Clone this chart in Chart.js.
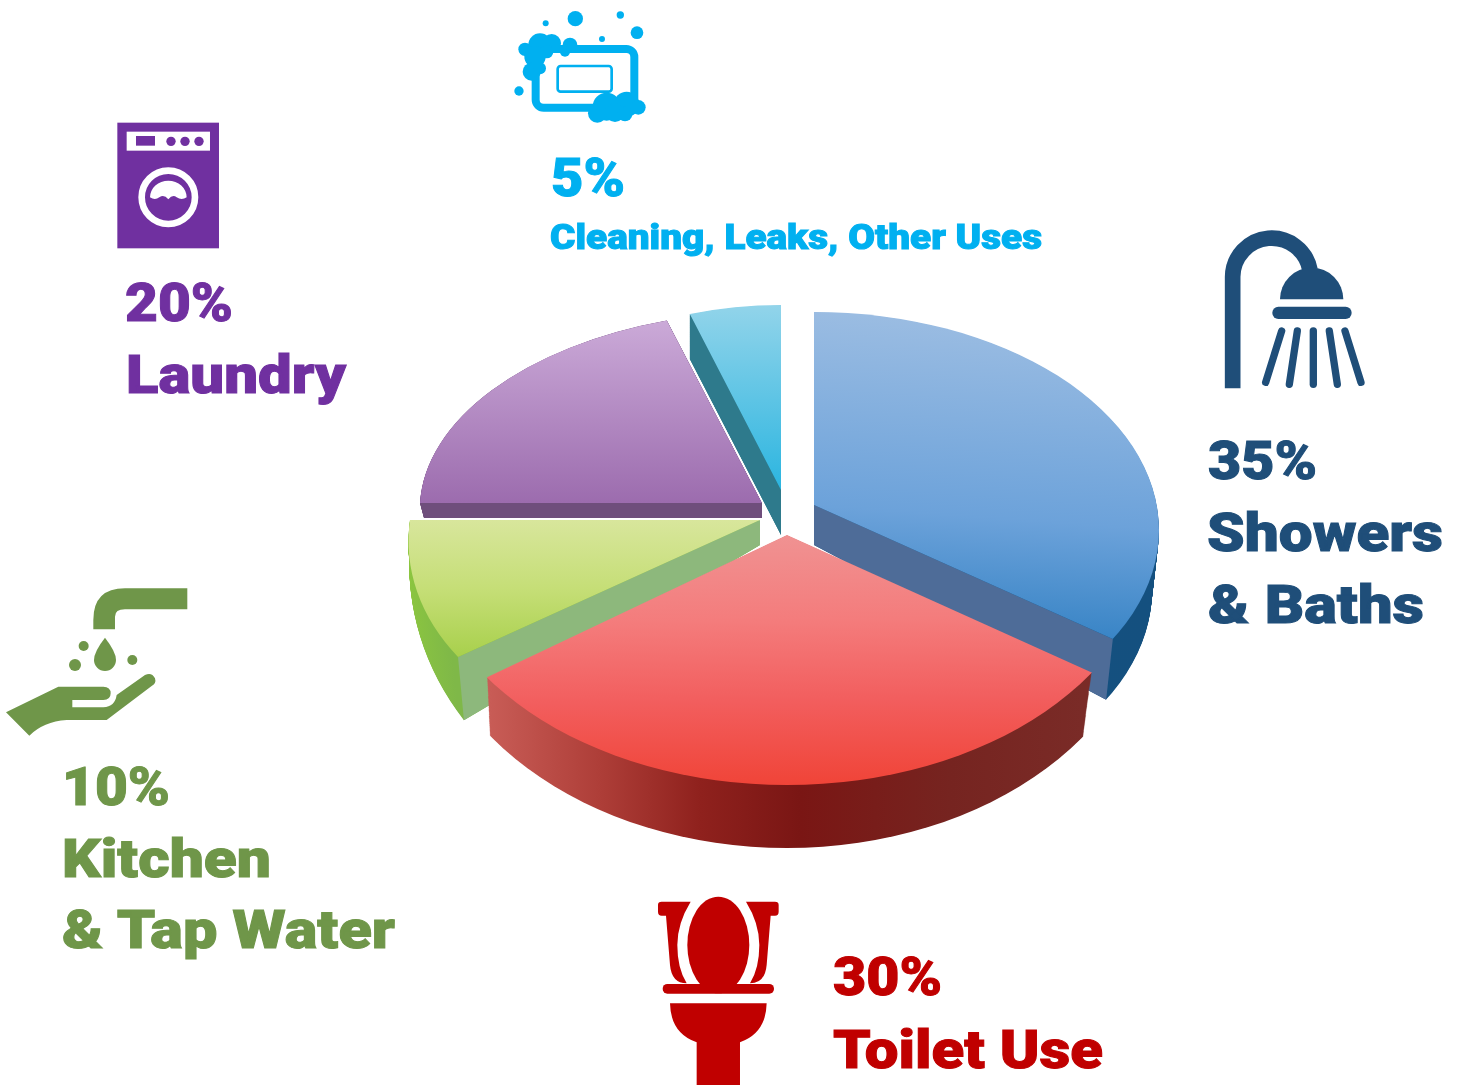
<!DOCTYPE html>
<html>
<head>
<meta charset="utf-8">
<title>Household water use</title>
<script src="https://cdn.jsdelivr.net/npm/chart.js@4"></script>
<style>
  html, body { margin: 0; padding: 0; background: #fff; }
  #wrap { position: relative; width: 1460px; height: 1085px; overflow: hidden; }
  #pie { position: absolute; left: 0; top: 0; }
  #overlay { position: absolute; left: 0; top: 0; pointer-events: none; }
  #overlay text { font-family: Roboto, "Liberation Sans", sans-serif; font-weight: 900; stroke-width: 1px; }
</style>
</head>
<body>
<div id="wrap">
  <canvas id="pie" width="1460" height="1085"></canvas>
  <svg id="overlay" width="1460" height="1085" viewBox="0 0 1460 1085" xmlns="http://www.w3.org/2000/svg">
    <!-- soap -->
    <g transform="translate(500,0) scale(0.3333)" fill="#00B0F0">
      <rect x="107" y="147" width="296" height="176" rx="24" fill="none" stroke="#00B0F0" stroke-width="24"/>
      <rect x="173" y="198" width="162" height="77" rx="9" fill="none" stroke="#00B0F0" stroke-width="8"/>
      <circle cx="120" cy="135" r="35"/><circle cx="155" cy="130" r="28"/><circle cx="210" cy="135" r="22"/>
      <circle cx="75" cy="148" r="20"/><circle cx="195" cy="155" r="15"/><circle cx="105" cy="170" r="32"/>
      <circle cx="140" cy="155" r="20"/><circle cx="95" cy="215" r="27"/><circle cx="120" cy="205" r="18"/>
      <circle cx="226" cy="56" r="23"/><circle cx="137" cy="70" r="9"/><circle cx="361" cy="45" r="11"/>
      <circle cx="411" cy="98" r="19"/><circle cx="306" cy="117" r="9"/><circle cx="57" cy="273" r="14"/>
      <circle cx="320" cy="320" r="42"/><circle cx="380" cy="313" r="38"/><circle cx="415" cy="322" r="22"/>
      <circle cx="292" cy="340" r="28"/><circle cx="345" cy="338" r="28"/><circle cx="375" cy="342" r="22"/>
    </g>
    <!-- washing machine -->
    <g transform="translate(100,110) scale(0.3333)">
      <rect x="52" y="38" width="305" height="377" fill="#7030A0"/>
      <rect x="80" y="65" width="250" height="57" fill="#fff"/>
      <rect x="108" y="78" width="57" height="29" fill="#7030A0"/>
      <circle cx="213" cy="94" r="14" fill="#7030A0"/><circle cx="255" cy="94" r="14" fill="#7030A0"/><circle cx="297" cy="94" r="14" fill="#7030A0"/>
      <circle cx="205" cy="262" r="80" fill="none" stroke="#fff" stroke-width="20"/>
      <path d="M150 262 A55 50 0 0 1 260 262 Q245 272 230 262 Q218 252 205 268 Q192 252 178 262 Q165 272 150 262 Z" fill="#fff"/>
    </g>
    <!-- shower -->
    <g transform="translate(1200,220) scale(0.3333)" fill="#1F4E79" stroke="none">
      <path d="M98 505 V170 A117 117 0 0 1 330 150" fill="none" stroke="#1F4E79" stroke-width="47"/>
      <path d="M240 238 A95 95 0 0 1 430 238 Z"/>
      <rect x="217" y="260" width="238" height="37" rx="18"/>
      <g stroke="#1F4E79" stroke-width="22" stroke-linecap="round" fill="none">
        <path d="M245 333 L197 487"/><path d="M292 333 L268 493"/><path d="M340 333 V493"/><path d="M388 333 L412 493"/><path d="M435 333 L483 487"/>
      </g>
    </g>
    <!-- tap and hand -->
    <g transform="translate(0,580) scale(0.3333)" fill="#6F9649">
      <path d="M562 25 H375 Q280 25 280 120 V148 H345 V110 Q345 88 375 88 H562 Z"/>
      <path d="M315 173 Q348 215 348 240 A33 33 0 0 1 282 240 Q282 215 315 173 Z"/>
      <circle cx="251" cy="198" r="15"/><circle cx="225" cy="255" r="18"/><circle cx="397" cy="240" r="15"/>
      <path d="M18 397 L175 320 H310 Q332 320 332 340 Q332 360 310 360 H217 V382 H310 Q345 380 350 345 L435 285 Q455 275 465 295 Q470 310 455 318 L320 420 H200 Q130 425 88 467 Z"/>
    </g>
    <!-- toilet -->
    <g transform="translate(640,890) scale(0.3333)" fill="#C00000">
      <ellipse cx="235" cy="165" rx="93" ry="145"/>
      <path d="M65 35 H152 Q112 100 112 165 Q112 235 140 280 Q95 280 90 225 L78 77 H65 Q54 77 54 65 V45 Q54 35 65 35 Z"/>
      <path d="M405 35 H318 Q358 100 358 165 Q358 235 330 280 Q375 280 380 225 L392 77 H405 Q416 77 416 65 V45 Q416 35 405 35 Z"/>
      <rect x="68" y="282" width="334" height="29" rx="14"/>
      <path d="M90 340 H380 Q378 430 300 457 V585 H170 V457 Q92 430 90 340 Z" />
    </g>
    <g id="labels"></g>
  </svg>
</div>

<script>
// chart values
const categories = ['Showers & Baths', 'Toilet Use', 'Kitchen & Tap Water', 'Laundry', 'Cleaning, Leaks, Other Uses'];
const shares = [35, 30, 10, 20, 5];
const labelLines = [['Showers', '& Baths'], ['Toilet Use'], ['Kitchen', '& Tap Water'], ['Laundry'], ['Cleaning, Leaks, Other Uses']];

// text colours and placement, [x, baseline, font size, width] per line, percent first
const labelColors = ['#1F4E79', '#C00000', '#6F9649', '#7030A0', '#00B0F0'];
const labelSpots = [
    [[1208, 479, 54, 109], [1207, 551, 54, 236], [1208, 623, 54, 216]],
    [[833, 995, 54, 109], [833, 1068, 54, 270]],
    [[62, 805, 54, 108], [62, 877, 54, 209], [62, 948, 54, 333]],
    [[125, 321, 54, 108], [126, 393, 54, 220]],
    [[551, 196, 54, 74], [550, 249, 35, 492]]
];

// every slice is squashed onto the picture plane with its own affine view:
// a = where the apex lands, u = the 3 o'clock radius, v = the 12 o'clock radius
// rim (optional) = ellipse [cx, cy, rx, ry] that trims the rim, the photo has perspective
const sliceViews = [
    {
        top: { a: [814, 505], u: [417, 30], v: [0, -216], rim: [814, 530, 345, 218] },
        bot: { a: [814, 545], u: [406, 58], v: [0, -216], rim: [814, 590, 338, 218] },
        wall: 'end'
    },
    {
        top: { a: [787, 535], u: [430, -5], v: [0, -274], rim: [787, 535, 365, 250] },
        bot: { a: [787, 576], u: [422, 1], v: [0, -313], rim: [787, 576, 367, 272] },
        wall: null
    },
    { top: { a: [760, 520], u: [350, 0], v: [32, -233] }, bot: { a: [760, 545], u: [350, 0], v: [22, -298] }, wall: 'start' },
    { top: { a: [762, 503], u: [342, 0], v: [11, -192] }, bot: { a: [762, 518], u: [338, 0], v: [11, -192] }, wall: 'start' },
    { top: { a: [781, 490], u: [295, 0], v: [0, -185] }, bot: { a: [781, 535], u: [295, 0], v: [0, -185] }, wall: 'start' }
];
const drawOrder = [4, 3, 2, 0, 1];
const rimSteps = 70;

// [screen y, colour]
const topStops = [
    [[312, '#9ABCE2'], [505, '#6CA2DA'], [640, '#2F7FC2']],
    [[535, '#F09292'], [620, '#F47C7C'], [700, '#F25E5E'], [785, '#F04438']],
    [[520, '#D8E69C'], [590, '#C5DE76'], [657, '#A8D04C']],
    [[320, '#CBAAD8'], [503, '#9C6CAE']],
    [[305, '#92D4EA'], [490, '#2BB5E0']]
];
// [screen x, colour]
const sideStops = [
    [[814, '#16507F'], [1159, '#14507F']],
    [[490, '#C85C56'], [600, '#AE3E38'], [700, '#8F211D'], [800, '#7A1614'], [950, '#762420'], [1083, '#7A2B27']],
    [[409, '#8CC63F'], [470, '#7FB848']],
    [[420, '#6F4E7C'], [762, '#6F4E7C']],
    [[690, '#2E7A8C'], [781, '#2E7A8C']]
];
const wallColors = ['#4E6C98', null, '#8DB87C', '#6F4E7C', '#2E7A8C'];

const mix = (p, q, t) => p + (q - p) * t;
const mixPair = (p, q, t) => p.map((n, i) => mix(n, q[i], t));
const mixView = (s, t) => ({
    a: mixPair(s.top.a, s.bot.a, t),
    u: mixPair(s.top.u, s.bot.u, t),
    v: mixPair(s.top.v, s.bot.v, t),
    rim: s.top.rim ? mixPair(s.top.rim, s.bot.rim, t) : null
});

const drawArc = (ctx, arc, view, fill) => {
    const R = arc.outerRadius;
    ctx.save();
    if (view.rim) {
        ctx.beginPath();
        ctx.ellipse(view.rim[0], view.rim[1], view.rim[2], view.rim[3], 0, 0, Math.PI * 2);
        ctx.clip();
    }
    ctx.translate(view.a[0], view.a[1]);
    ctx.transform(view.u[0] / R, view.u[1] / R, -view.v[0] / R, -view.v[1] / R, 0, 0);
    ctx.translate(-arc.x, -arc.y);
    const clone = Object.create(arc);
    clone.options = Object.assign({}, arc.options, { backgroundColor: fill });
    clone.draw(ctx);
    ctx.restore();
};

// where the rim of an arc angle lands in a view
const rimPoint = (view, angle) => {
    const c = Math.cos(angle), s = Math.sin(angle);
    const dx = view.u[0] * c - view.v[0] * s, dy = view.u[1] * c - view.v[1] * s;
    let t = 1;
    if (view.rim) {
        const ox = (view.a[0] - view.rim[0]) / view.rim[2], oy = (view.a[1] - view.rim[1]) / view.rim[3];
        const px = dx / view.rim[2], py = dy / view.rim[3];
        const A = px * px + py * py, B = 2 * (ox * px + oy * py), C = ox * ox + oy * oy - 1;
        t = (-B + Math.sqrt(B * B - 4 * A * C)) / (2 * A);
    }
    return [view.a[0] + dx * t, view.a[1] + dy * t];
};

const slab3d = {
    id: 'slab3d',
    beforeDatasetsDraw(chart) {
        const ctx = chart.ctx;
        const arcs = chart.getDatasetMeta(0).data;
        drawOrder.forEach(i => {
            const arc = arcs[i], s = sliceViews[i], R = arc.outerRadius;
            const side = sideStops[i];
            const x0 = side[0][0], x1 = side[side.length - 1][0];

            // rim: stack of copies going down from the underside
            for (let k = rimSteps; k > 0; k--) {
                const view = mixView(s, k / rimSteps);
                const g = ctx.createLinearGradient(
                    arc.x + (x0 - view.a[0]) * R / view.u[0], 0,
                    arc.x + (x1 - view.a[0]) * R / view.u[0], 0);
                side.forEach(st => g.addColorStop((st[0] - x0) / (x1 - x0), st[1]));
                drawArc(ctx, arc, view, g);
            }

            // flat cut face
            if (s.wall) {
                const angle = s.wall === 'start' ? arc.startAngle : arc.endAngle;
                const p = rimPoint(s.top, angle), q = rimPoint(s.bot, angle);
                ctx.fillStyle = wallColors[i];
                ctx.beginPath();
                ctx.moveTo(s.top.a[0], s.top.a[1]);
                ctx.lineTo(p[0], p[1]);
                ctx.lineTo(q[0], q[1]);
                ctx.lineTo(s.bot.a[0], s.bot.a[1]);
                ctx.closePath();
                ctx.fill();
            }

            // top surface
            const stops = topStops[i];
            const toArcY = y => arc.y + (y - s.top.a[1]) * R / -s.top.v[1];
            const y0 = stops[0][0], y1 = stops[stops.length - 1][0];
            const g = ctx.createLinearGradient(0, toArcY(y0), 0, toArcY(y1));
            stops.forEach(st => g.addColorStop((st[0] - y0) / (y1 - y0), st[1]));
            drawArc(ctx, arc, s.top, g);
        });
        return false;
    }
};

new Chart(document.getElementById('pie'), {
    type: 'pie',
    data: {
        labels: categories,
        datasets: [{
            data: shares,
            backgroundColor: labelColors,
            borderWidth: 0
        }]
    },
    options: {
        responsive: false,
        animation: false,
        rotation: 0,
        plugins: {
            legend: { display: false },
            tooltip: { enabled: false }
        }
    },
    plugins: [slab3d]
});

// labels
const labelLayer = document.getElementById('labels');
const addLine = (text, spot, color) => {
    const el = document.createElementNS('http://www.w3.org/2000/svg', 'text');
    el.setAttribute('x', spot[0]);
    el.setAttribute('y', spot[1]);
    el.setAttribute('font-size', spot[2]);
    el.setAttribute('textLength', spot[3]);
    el.setAttribute('lengthAdjust', 'spacingAndGlyphs');
    el.setAttribute('fill', color);
    el.setAttribute('stroke', color);
    el.textContent = text;
    labelLayer.appendChild(el);
};
categories.forEach((c, i) => {
    const lines = [`${shares[i]}%`].concat(labelLines[i]);
    lines.forEach((t, j) => addLine(t, labelSpots[i][j], labelColors[i]));
});
</script>
</body>
</html>
